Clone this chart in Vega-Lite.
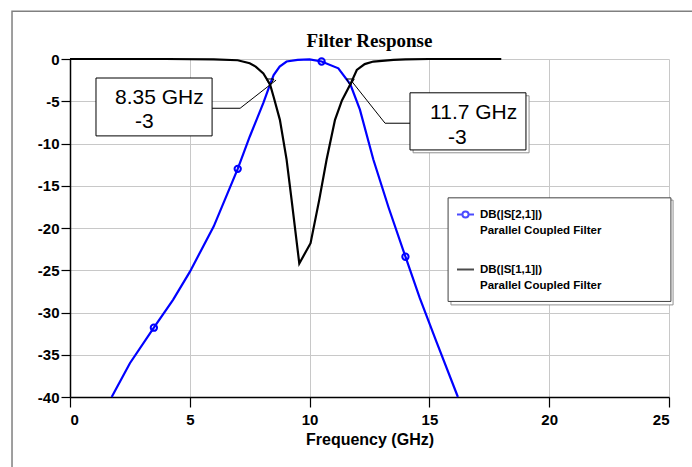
{
  "$schema": "https://vega.github.io/schema/vega-lite/v6.json",
  "width": 599,
  "height": 338,
  "autosize": {"type": "none"},
  "padding": {"left": 70, "top": 59, "right": 23, "bottom": 70},
  "background": "white",
  "title": {"text": "Filter Response", "font": "Liberation Serif", "fontWeight": "bold", "fontSize": 19, "color": "black", "anchor": "middle", "offset": -40},
  "datasets": {
    "curves": [
      {"f": 1.74, "db": -40, "series": "DB(|S[2,1]|)", "m": 0},
      {"f": 2.5, "db": -36, "series": "DB(|S[2,1]|)", "m": 0},
      {"f": 3.5, "db": -31.8, "series": "DB(|S[2,1]|)", "m": 1},
      {"f": 4.3, "db": -28.5, "series": "DB(|S[2,1]|)", "m": 0},
      {"f": 5, "db": -25.2, "series": "DB(|S[2,1]|)", "m": 0},
      {"f": 6, "db": -19.8, "series": "DB(|S[2,1]|)", "m": 0},
      {"f": 7, "db": -13.0, "series": "DB(|S[2,1]|)", "m": 1},
      {"f": 7.5, "db": -9.2, "series": "DB(|S[2,1]|)", "m": 0},
      {"f": 8.07, "db": -5.2, "series": "DB(|S[2,1]|)", "m": 0},
      {"f": 8.35, "db": -3.0, "series": "DB(|S[2,1]|)", "m": 0},
      {"f": 8.5, "db": -1.9, "series": "DB(|S[2,1]|)", "m": 0},
      {"f": 8.75, "db": -0.9, "series": "DB(|S[2,1]|)", "m": 0},
      {"f": 9.04, "db": -0.3, "series": "DB(|S[2,1]|)", "m": 0},
      {"f": 9.5, "db": -0.1, "series": "DB(|S[2,1]|)", "m": 0},
      {"f": 10, "db": -0.05, "series": "DB(|S[2,1]|)", "m": 0},
      {"f": 10.5, "db": -0.3, "series": "DB(|S[2,1]|)", "m": 1},
      {"f": 11.2, "db": -1.1, "series": "DB(|S[2,1]|)", "m": 0},
      {"f": 11.7, "db": -3.0, "series": "DB(|S[2,1]|)", "m": 0},
      {"f": 12.1, "db": -6.0, "series": "DB(|S[2,1]|)", "m": 0},
      {"f": 12.66, "db": -11.9, "series": "DB(|S[2,1]|)", "m": 0},
      {"f": 13.3, "db": -17.6, "series": "DB(|S[2,1]|)", "m": 0},
      {"f": 14, "db": -23.4, "series": "DB(|S[2,1]|)", "m": 1},
      {"f": 14.6, "db": -28.3, "series": "DB(|S[2,1]|)", "m": 0},
      {"f": 15.3, "db": -33.5, "series": "DB(|S[2,1]|)", "m": 0},
      {"f": 16.19, "db": -40, "series": "DB(|S[2,1]|)", "m": 0},
      {"f": 0, "db": 0, "series": "DB(|S[1,1]|)", "m": 0},
      {"f": 2, "db": 0, "series": "DB(|S[1,1]|)", "m": 0},
      {"f": 4, "db": 0, "series": "DB(|S[1,1]|)", "m": 0},
      {"f": 6, "db": -0.05, "series": "DB(|S[1,1]|)", "m": 0},
      {"f": 7, "db": -0.15, "series": "DB(|S[1,1]|)", "m": 0},
      {"f": 7.5, "db": -0.5, "series": "DB(|S[1,1]|)", "m": 0},
      {"f": 7.75, "db": -0.9, "series": "DB(|S[1,1]|)", "m": 0},
      {"f": 8.07, "db": -1.7, "series": "DB(|S[1,1]|)", "m": 0},
      {"f": 8.35, "db": -3.0, "series": "DB(|S[1,1]|)", "m": 0},
      {"f": 8.5, "db": -4.5, "series": "DB(|S[1,1]|)", "m": 0},
      {"f": 8.76, "db": -7.2, "series": "DB(|S[1,1]|)", "m": 0},
      {"f": 9.04, "db": -11.9, "series": "DB(|S[1,1]|)", "m": 0},
      {"f": 9.25, "db": -16.7, "series": "DB(|S[1,1]|)", "m": 0},
      {"f": 9.57, "db": -24.2, "series": "DB(|S[1,1]|)", "m": 0},
      {"f": 10.04, "db": -21.8, "series": "DB(|S[1,1]|)", "m": 0},
      {"f": 10.4, "db": -16.7, "series": "DB(|S[1,1]|)", "m": 0},
      {"f": 10.71, "db": -11.9, "series": "DB(|S[1,1]|)", "m": 0},
      {"f": 11.06, "db": -7.2, "series": "DB(|S[1,1]|)", "m": 0},
      {"f": 11.35, "db": -4.9, "series": "DB(|S[1,1]|)", "m": 0},
      {"f": 11.7, "db": -3.0, "series": "DB(|S[1,1]|)", "m": 0},
      {"f": 11.97, "db": -1.3, "series": "DB(|S[1,1]|)", "m": 0},
      {"f": 12.3, "db": -0.6, "series": "DB(|S[1,1]|)", "m": 0},
      {"f": 12.66, "db": -0.3, "series": "DB(|S[1,1]|)", "m": 0},
      {"f": 13.5, "db": -0.1, "series": "DB(|S[1,1]|)", "m": 0},
      {"f": 14, "db": -0.05, "series": "DB(|S[1,1]|)", "m": 0},
      {"f": 15, "db": 0, "series": "DB(|S[1,1]|)", "m": 0},
      {"f": 18, "db": 0, "series": "DB(|S[1,1]|)", "m": 0}
    ],
    "callouts": [
      {"f": 8.35, "db": -3, "label": "8.35 GHz"},
      {"f": 11.7, "db": -3, "label": "11.7 GHz"}
    ]
  },
  "layer": [
    {
      "data": {"values": [{}]},
      "mark": {"type": "rect", "fill": null, "stroke": "#808080", "strokeWidth": 1.5, "clip": false},
      "encoding": {
        "x": {"datum": -2.42, "type": "quantitative", "scale": {"domain": [0, 25], "nice": false, "zero": false}},
        "x2": {"datum": 40},
        "y": {"datum": 5.65, "type": "quantitative", "scale": {"domain": [-40, 0], "nice": false, "zero": false}},
        "y2": {"datum": -80}
      }
    },
    {
      "data": {"name": "curves"},
      "mark": {"type": "line", "strokeWidth": 2.2},
      "encoding": {
        "x": {"field": "f", "type": "quantitative", "scale": {"domain": [0, 25], "nice": false, "zero": false},
          "axis": {"title": "Frequency (GHz)", "values": [0, 5, 10, 15, 20, 25], "grid": true, "tickSize": 10, "labelPadding": 5, "titlePadding": 4}},
        "y": {"field": "db", "type": "quantitative", "scale": {"domain": [-40, 0], "nice": false, "zero": false},
          "axis": {"title": null, "values": [0, -5, -10, -15, -20, -25, -30, -35, -40], "grid": true, "tickSize": 9, "labelPadding": 2, "labelExpr": "toString(datum.value)"}},
        "color": {"field": "series", "type": "nominal", "scale": {"domain": ["DB(|S[2,1]|)", "DB(|S[1,1]|)"], "range": ["#0000ff", "#000000"]},
          "legend": {"labelExpr": "[datum.label, 'Parallel Coupled Filter']"}},
        "detail": {"field": "series"}
      }
    },
    {
      "data": {"name": "curves"},
      "transform": [{"filter": "datum.m == 1"}],
      "mark": {"type": "point", "shape": "circle", "filled": false, "stroke": "#0000ff", "strokeWidth": 2, "size": 40, "opacity": 1},
      "encoding": {
        "x": {"field": "f", "type": "quantitative"},
        "y": {"field": "db", "type": "quantitative"}
      }
    },
    {
      "data": {"name": "callouts"},
      "mark": {"type": "point", "shape": "triangle-down", "filled": false, "stroke": "black", "strokeWidth": 1, "size": 60, "opacity": 1},
      "encoding": {
        "x": {"field": "f", "type": "quantitative"},
        "y": {"field": "db", "type": "quantitative"},
        "yOffset": {"value": -2}
      }
    },
    {
      "data": {"values": [{}]},
      "mark": {"type": "rule", "color": "black", "strokeWidth": 1},
      "encoding": {"x": {"datum": 5.93, "type": "quantitative"}, "x2": {"datum": 7.1}, "y": {"datum": -5.83, "type": "quantitative"}, "y2": {"datum": -5.83}}
    },
    {
      "data": {"values": [{}]},
      "mark": {"type": "rule", "color": "black", "strokeWidth": 1},
      "encoding": {"x": {"datum": 7.1, "type": "quantitative"}, "x2": {"datum": 8.6}, "y": {"datum": -5.83, "type": "quantitative"}, "y2": {"datum": -2.5}}
    },
    {
      "data": {"values": [{}]},
      "mark": {"type": "rule", "color": "black", "strokeWidth": 1},
      "encoding": {"x": {"datum": 14.19, "type": "quantitative"}, "x2": {"datum": 13.15}, "y": {"datum": -7.6, "type": "quantitative"}, "y2": {"datum": -7.6}}
    },
    {
      "data": {"values": [{}]},
      "mark": {"type": "rule", "color": "black", "strokeWidth": 1},
      "encoding": {"x": {"datum": 13.15, "type": "quantitative"}, "x2": {"datum": 11.75}, "y": {"datum": -7.6, "type": "quantitative"}, "y2": {"datum": -2.6}}
    },
    {
      "data": {"values": [{}]},
      "mark": {"type": "rect", "fill": "white", "stroke": "black", "strokeWidth": 1},
      "encoding": {"x": {"datum": 1.085, "type": "quantitative"}, "x2": {"datum": 5.93}, "y": {"datum": -2.25, "type": "quantitative"}, "y2": {"datum": -9.1}}
    },
    {
      "data": {"values": [{}]},
      "mark": {"type": "rect", "fill": "white", "stroke": "#909090", "strokeWidth": 1},
      "encoding": {"x": {"datum": 14.32, "type": "quantitative"}, "x2": {"datum": 19.16}, "y": {"datum": -4.35, "type": "quantitative"}, "y2": {"datum": -11.1}}
    },
    {
      "data": {"values": [{}]},
      "mark": {"type": "rect", "fill": "white", "stroke": "black", "strokeWidth": 1},
      "encoding": {"x": {"datum": 14.19, "type": "quantitative"}, "x2": {"datum": 19.03}, "y": {"datum": -4.0, "type": "quantitative"}, "y2": {"datum": -10.76}}
    },
    {
      "data": {"values": [{}]},
      "mark": {"type": "text", "font": "Liberation Sans", "fontSize": 21, "color": "black", "align": "left", "baseline": "middle"},
      "encoding": {"x": {"datum": 1.88, "type": "quantitative"}, "y": {"datum": -4.6, "type": "quantitative"}, "text": {"value": "8.35 GHz"}}
    },
    {
      "data": {"values": [{}]},
      "mark": {"type": "text", "font": "Liberation Sans", "fontSize": 21, "color": "black", "align": "left", "baseline": "middle"},
      "encoding": {"x": {"datum": 2.71, "type": "quantitative"}, "y": {"datum": -7.45, "type": "quantitative"}, "text": {"value": "-3"}}
    },
    {
      "data": {"values": [{}]},
      "mark": {"type": "text", "font": "Liberation Sans", "fontSize": 21, "color": "black", "align": "left", "baseline": "middle"},
      "encoding": {"x": {"datum": 15.03, "type": "quantitative"}, "y": {"datum": -6.42, "type": "quantitative"}, "text": {"value": "11.7 GHz"}}
    },
    {
      "data": {"values": [{}]},
      "mark": {"type": "text", "font": "Liberation Sans", "fontSize": 21, "color": "black", "align": "left", "baseline": "middle"},
      "encoding": {"x": {"datum": 15.78, "type": "quantitative"}, "y": {"datum": -9.37, "type": "quantitative"}, "text": {"value": "-3"}}
    },
    {
      "data": {"values": [{}]},
      "mark": {"type": "rect", "fill": "white", "stroke": "#909090", "strokeWidth": 1},
      "encoding": {"x": {"datum": 15.9, "type": "quantitative"}, "x2": {"datum": 25.17}, "y": {"datum": -16.7, "type": "quantitative"}, "y2": {"datum": -29.1}}
    },
    {
      "data": {"values": [{}]},
      "mark": {"type": "rect", "fill": "white", "stroke": "#404040", "strokeWidth": 1},
      "encoding": {"x": {"datum": 15.78, "type": "quantitative"}, "x2": {"datum": 25.08}, "y": {"datum": -16.43, "type": "quantitative"}, "y2": {"datum": -28.69}}
    },
    {
      "data": {"name": "curves"},
      "transform": [{"filter": "datum.f > 100"}],
      "mark": {"type": "point", "filled": false, "strokeWidth": 2},
      "encoding": {
        "x": {"field": "f", "type": "quantitative"},
        "y": {"field": "db", "type": "quantitative"},
        "color": {"field": "series", "type": "nominal", "legend": {"labelExpr": "[datum.label, 'Parallel Coupled Filter']"}},
        "shape": {"field": "series", "type": "nominal",
          "scale": {"domain": ["DB(|S[2,1]|)", "DB(|S[1,1]|)"], "range": ["M-1,0H-0.36M0.36,0H1M-0.36,0A0.36,0.36,0,1,1,0.36,0A0.36,0.36,0,1,1,-0.36,0", "M-1,0H1"]},
          "legend": {"title": null, "labelExpr": "[datum.label, 'Parallel Coupled Filter']"}}
      }
    }
  ],
  "config": {
    "view": {"stroke": null},
    "style": {"guide-label": {"lineHeight": 16}},
    "axis": {
      "domainColor": "black", "domainWidth": 1.5, "tickColor": "black", "tickWidth": 1.2,
      "gridColor": "#c8c8c8", "gridWidth": 1,
      "labelFont": "Liberation Sans", "labelFontWeight": "bold", "labelFontSize": 15, "labelColor": "black",
      "titleFont": "Liberation Sans", "titleFontWeight": "bold", "titleFontSize": 16, "titleColor": "black"
    },
    "legend": {
      "title": null,
      "orient": "none", "legendX": 386, "legendY": 146,
      "padding": 0,
      "symbolSize": 289, "symbolStrokeWidth": 2, "symbolFillColor": "transparent",
      "labelFont": "Liberation Sans", "labelFontWeight": "bold", "labelFontSize": 11.5, "labelColor": "black",
      "labelOffset": 5, "labelLimit": 300, "rowPadding": 24
    }
  }
}
